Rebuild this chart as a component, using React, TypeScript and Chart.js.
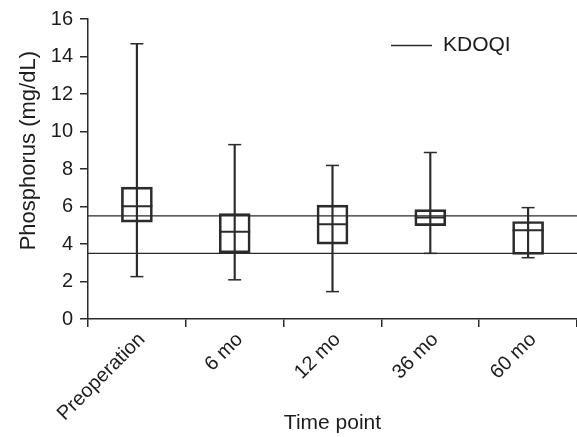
import React, { useEffect, useRef } from 'react';
import { Chart, registerables } from 'chart.js';

Chart.register(...registerables);

// ---- data ----
const categories = ['Preoperation', '6 mo', '12 mo', '36 mo', '60 mo'];
const whiskerMin = [2.26, 2.09, 1.46, 3.5, 3.27];
const boxQ1 = [5.17, 3.53, 3.99, 4.98, 3.45];
const medians = [6.02, 4.65, 5.05, 5.41, 4.74];
const boxQ3 = [7.03, 5.62, 6.07, 5.83, 5.2];
const whiskerMax = [14.68, 9.3, 8.19, 8.88, 5.94];
const kdoqiUpper = 5.5;
const kdoqiLower = 3.5;
const yMin = 0;
const yMax = 16;
const yStep = 2;

const LINE = '#2b2b2b';
const TEXT = '#1c1c1c';
const FONT = '"Liberation Sans", Arial, Helvetica, sans-serif';

const insideLegend = {
  id: 'insideLegend',
  afterDatasetsDraw(chart: any) {
    const ds = chart.data.datasets.find((d: any) => d.label === 'KDOQI');
    if (!ds) return;
    const { ctx, chartArea } = chart;
    const y = chartArea.top + 26.5;
    const x0 = chartArea.right - 186;
    ctx.save();
    ctx.strokeStyle = ds.borderColor;
    ctx.lineWidth = ds.borderWidth;
    ctx.beginPath();
    ctx.moveTo(x0, y);
    ctx.lineTo(x0 + 41, y);
    ctx.stroke();
    ctx.fillStyle = TEXT;
    ctx.font = `21px ${FONT}`;
    ctx.textBaseline = 'middle';
    ctx.textAlign = 'left';
    ctx.fillText(ds.label, x0 + 52, y);
    ctx.restore();
  },
};

export default function App() {
  const ref = useRef<HTMLCanvasElement | null>(null);

  useEffect(() => {
    if (!ref.current) return;
    const chart = new Chart(ref.current, {
      type: 'bar',
      data: {
        labels: categories,
        datasets: [
          {
            type: 'bar',
            label: 'whisker',
            data: categories.map((_, i) => [whiskerMin[i], whiskerMax[i]]),
            backgroundColor: LINE,
            borderWidth: 0,
            barThickness: 1.5,
            grouped: false,
            order: 3,
          } as any,
          {
            type: 'bar',
            label: 'box',
            data: categories.map((_, i) => [boxQ1[i], boxQ3[i]]),
            backgroundColor: 'rgba(0,0,0,0)',
            borderColor: LINE,
            borderWidth: 2,
            borderSkipped: false,
            barThickness: 31,
            grouped: false,
            order: 2,
          } as any,
          {
            type: 'line',
            label: 'median',
            data: medians,
            showLine: false,
            pointStyle: 'line',
            pointRadius: 15.5,
            pointBorderWidth: 2,
            borderColor: LINE,
            backgroundColor: LINE,
            order: 1,
          } as any,
          {
            type: 'line',
            label: 'max',
            data: whiskerMax,
            showLine: false,
            pointStyle: 'line',
            pointRadius: 6.5,
            pointBorderWidth: 1.5,
            borderColor: LINE,
            backgroundColor: LINE,
            order: 1,
          } as any,
          {
            type: 'line',
            label: 'min',
            data: whiskerMin,
            showLine: false,
            pointStyle: 'line',
            pointRadius: 6.5,
            pointBorderWidth: 1.5,
            borderColor: LINE,
            backgroundColor: LINE,
            order: 1,
          } as any,
          {
            type: 'line',
            label: 'KDOQI',
            xAxisID: 'xk',
            data: [
              { x: 0, y: kdoqiUpper },
              { x: 1, y: kdoqiUpper },
            ],
            borderColor: LINE,
            borderWidth: 1.4,
            pointRadius: 0,
            fill: false,
            order: 0,
          } as any,
          {
            type: 'line',
            label: 'KDOQI lower',
            xAxisID: 'xk',
            data: [
              { x: 0, y: kdoqiLower },
              { x: 1, y: kdoqiLower },
            ],
            borderColor: LINE,
            borderWidth: 1.4,
            pointRadius: 0,
            fill: false,
            order: 0,
          } as any,
        ],
      },
      options: {
        responsive: false,
        animation: false,
        devicePixelRatio: 1,
        events: [],
        layout: { autoPadding: false, padding: { top: 16, right: 0, bottom: 0, left: 0 } },
        plugins: {
          legend: { display: false },
          tooltip: { enabled: false },
        },
        scales: {
          x: {
            type: 'category',
            offset: true,
            grid: {
              offset: true,
              drawOnChartArea: false,
              tickLength: 8,
              color: LINE,
              lineWidth: 1.5,
            },
            border: { color: LINE, width: 1.5 },
            ticks: {
              autoSkip: false,
              minRotation: 45,
              maxRotation: 45,
              padding: 1,
              labelOffset: 5,
              color: TEXT,
              font: { family: FONT, size: 20 },
            },
            title: {
              display: true,
              text: 'Time point',
              color: TEXT,
              font: { family: FONT, size: 21 },
              padding: { top: 0, bottom: 1 },
            },
            afterFit(scale: any) {
              scale.height = 118;
              scale.paddingRight = 0;
              scale.paddingLeft = 0;
            },
          },
          xk: {
            type: 'linear',
            display: false,
            offset: false,
            min: 0,
            max: 1,
          },
          y: {
            type: 'linear',
            min: yMin,
            max: yMax,
            grid: {
              drawOnChartArea: false,
              tickLength: 8,
              color: LINE,
              lineWidth: 1.5,
            },
            border: { color: LINE, width: 1.5 },
            ticks: {
              stepSize: yStep,
              padding: 7,
              color: TEXT,
              font: { family: FONT, size: 20 },
            },
            title: {
              display: true,
              text: '      Phosphorus (mg/dL)',
              color: TEXT,
              font: { family: FONT, size: 22 },
              padding: { top: 16, bottom: 0 },
            },
            afterFit(scale: any) {
              scale.width = 88;
            },
          },
        },
      } as any,
      plugins: [insideLegend],
    });
    return () => chart.destroy();
  }, []);

  return (
    <div
      style={{
        position: 'fixed',
        left: 0,
        top: 0,
        width: 577,
        height: 437,
        background: '#ffffff',
      }}
    >
      <canvas ref={ref} width={577} height={437} style={{ display: 'block' }} />
    </div>
  );
}
